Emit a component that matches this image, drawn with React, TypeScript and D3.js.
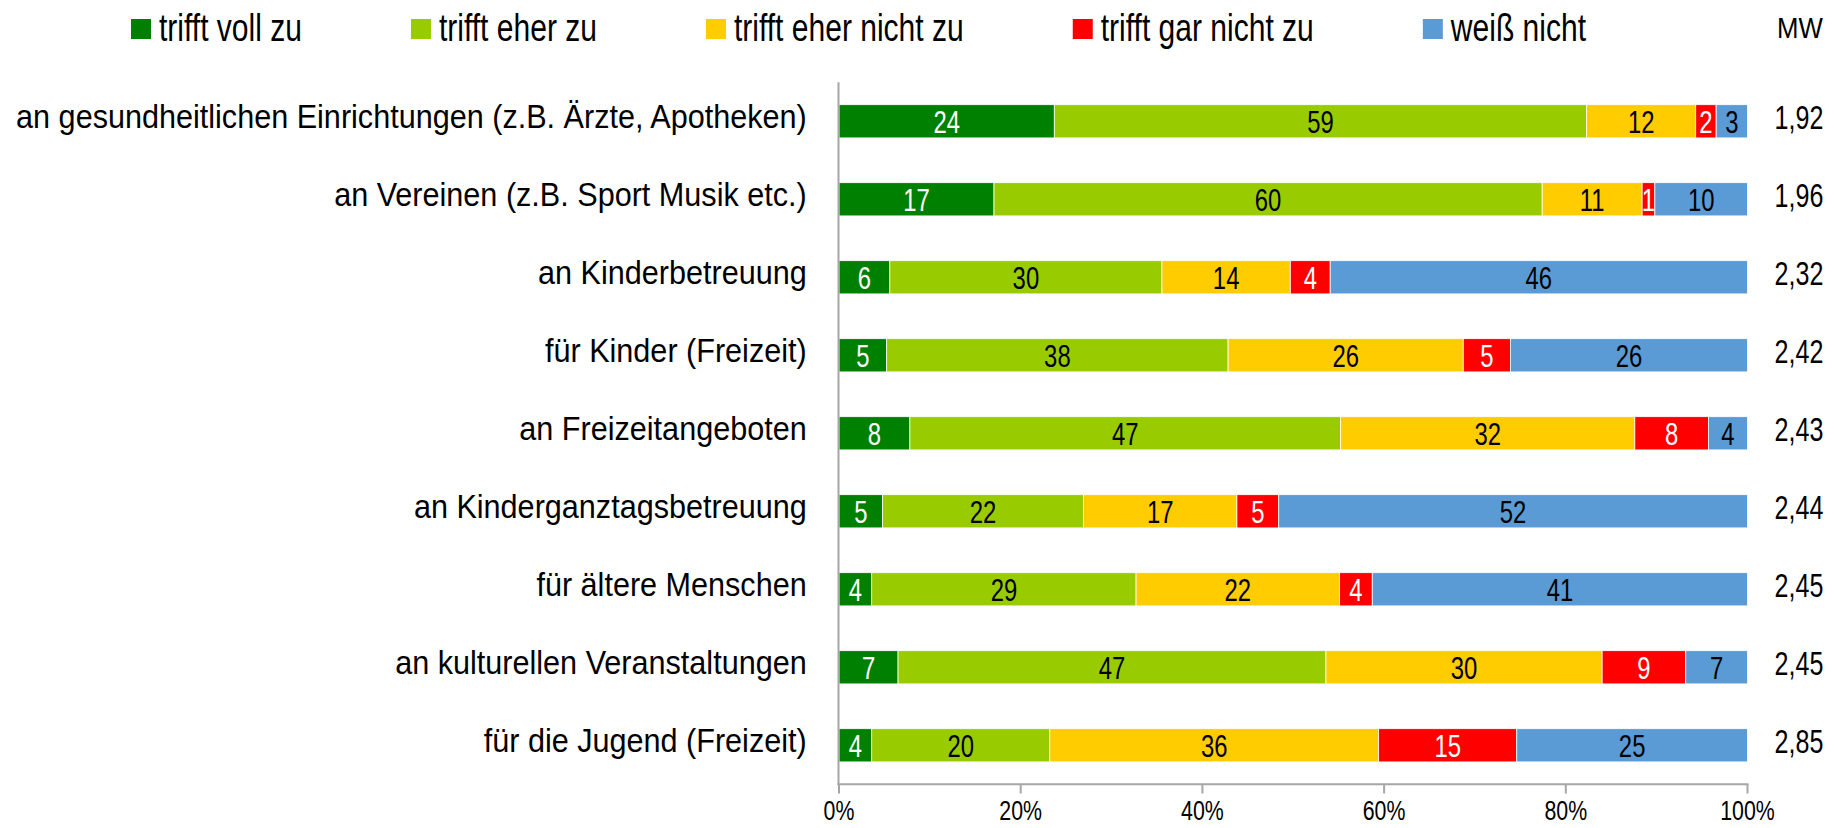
import React from 'react';
import * as d3 from 'd3';

const categories = [
  'an gesundheitlichen Einrichtungen (z.B. Ärzte, Apotheken)',
  'an Vereinen (z.B. Sport Musik etc.)',
  'an Kinderbetreuung',
  'für Kinder (Freizeit)',
  'an Freizeitangeboten',
  'an Kinderganztagsbetreuung',
  'für ältere Menschen',
  'an kulturellen Veranstaltungen',
  'für die Jugend (Freizeit)',
];
const seriesNames = ['trifft voll zu', 'trifft eher zu', 'trifft eher nicht zu', 'trifft gar nicht zu', 'weiß nicht'];
const seriesColors = ['#008000', '#99cc00', '#ffcc00', '#ff0000', '#5b9bd5'];
const labelColors = ['#ffffff', '#000000', '#000000', '#ffffff', '#000000'];

const vollZu = [23.7, 17.06, 5.6, 5.25, 7.8, 4.8, 3.6, 6.5, 3.6];
const eherZu = [58.6, 60.35, 30.0, 37.6, 47.4, 22.1, 29.1, 47.1, 19.6];
const eherNicht = [12.0, 11.0, 14.15, 25.9, 32.4, 16.9, 22.4, 30.4, 36.2];
const garNicht = [2.25, 1.4, 4.4, 5.2, 8.1, 4.6, 3.6, 9.2, 15.2];
const weissNicht = [3.45, 10.2, 46.0, 26.1, 4.3, 51.6, 41.3, 6.8, 25.4];
const meanValues = [1.92, 1.96, 2.32, 2.42, 2.43, 2.44, 2.45, 2.45, 2.85];
const tickValues = [0, 20, 40, 60, 80, 100];
const mwTitle = 'MW';

const W = 1834;
const H = 828;
const FONT = "'Liberation Sans', Arial, sans-serif";

type TProps = { x: number; y: number; size: number; sx: number; anchor?: string; fill?: string; children: React.ReactNode };
const T = ({ x, y, size, sx, anchor = 'start', fill = '#000', children }: TProps) => (
  <text
    transform={`translate(${x},${y}) scale(${sx},1)`}
    fontFamily={FONT}
    fontSize={size}
    textAnchor={anchor}
    fill={fill}
  >
    {children}
  </text>
);

let ctx: CanvasRenderingContext2D | null = null;
function measure(text: string, size: number): number {
  if (!ctx) ctx = document.createElement('canvas').getContext('2d');
  if (!ctx) return text.length * size * 0.5;
  ctx.font = `${size}px ${FONT}`;
  return ctx.measureText(text).width;
}

export default function App() {
  const seriesArrays = [vollZu, eherZu, eherNicht, garNicht, weissNicht];
  const rows = categories.map((c, i) => {
    const r: any = { cat: c };
    seriesNames.forEach((s, k) => (r[s] = seriesArrays[k][i]));
    return r;
  });
  const stacked = d3.stack<any>().keys(seriesNames).offset(d3.stackOffsetExpand)(rows);

  const x = d3.scaleLinear().domain([0, 1]).range([839, 1747.5]);
  const y = d3.scaleBand<string>().domain(categories).range([82.3, 784.3]).paddingInner(0.574).paddingOuter(0.287);
  const bw = y.bandwidth();

  // legend layout
  const legSize = 39;
  const legSx = 0.77;
  const legendItems: { x: number; name: string; color: string }[] = [];
  let lx = 131;
  seriesNames.forEach((s, k) => {
    legendItems.push({ x: lx, name: s, color: seriesColors[k] });
    lx += 28 + measure(s, legSize) * legSx + 109;
  });

  const axisColor = '#a6a6a6';
  const fmt = (v: number) => v.toFixed(2).replace('.', ',');

  return (
    <svg width={W} height={H} style={{ position: 'absolute', left: 0, top: 0, background: '#fff' }}>
      <rect x={0} y={0} width={W} height={H} fill="#fff" />
      {/* legend */}
      {legendItems.map((it) => (
        <g key={it.name}>
          <rect x={it.x} y={19} width={20} height={20} fill={it.color} />
          <T x={it.x + 28} y={40.7} size={legSize} sx={legSx}>
            {it.name}
          </T>
        </g>
      ))}
      <T x={1800} y={38} size={30} sx={0.86} anchor="middle">
        {mwTitle}
      </T>

      {/* bars */}
      {stacked.map((layer, k) => (
        <g key={layer.key}>
          {layer.map((d, i) => {
            const x0 = x(d[0]);
            const x1 = x(d[1]);
            const yy = y(categories[i]) as number;
            const val = Math.round(seriesArrays[k][i]);
            return (
              <g key={i}>
                <rect x={x0} y={yy} width={x1 - x0} height={bw} fill={seriesColors[k]} stroke="#ffffff" strokeWidth={0.8} />
                <T x={(x0 + x1) / 2} y={yy + bw / 2 + 11.2} size={31} sx={0.77} anchor="middle" fill={labelColors[k]}>
                  {val}
                </T>
              </g>
            );
          })}
        </g>
      ))}

      {/* category labels */}
      {categories.map((c) => (
        <T key={c} x={806.7} y={(y(c) as number) + bw / 2 + 6.4} size={34} sx={0.9} anchor="end">
          {c}
        </T>
      ))}

      {/* mean values */}
      {categories.map((c, i) => (
        <T key={c + 'mw'} x={1799} y={(y(c) as number) + bw / 2 + 7.5} size={33} sx={0.76} anchor="middle">
          {fmt(meanValues[i])}
        </T>
      ))}

      {/* axes */}
      <line x1={838.5} x2={838.5} y1={82.3} y2={785} stroke={axisColor} strokeWidth={2} />
      <line x1={837.5} x2={1748.5} y1={784.3} y2={784.3} stroke={axisColor} strokeWidth={2} />
      {tickValues.map((t) => (
        <g key={t}>
          <line x1={x(t / 100)} x2={x(t / 100)} y1={784.3} y2={793.5} stroke={axisColor} strokeWidth={2} />
          <T x={x(t / 100)} y={820} size={27} sx={0.79} anchor="middle">
            {`${t}%`}
          </T>
        </g>
      ))}
    </svg>
  );
}
